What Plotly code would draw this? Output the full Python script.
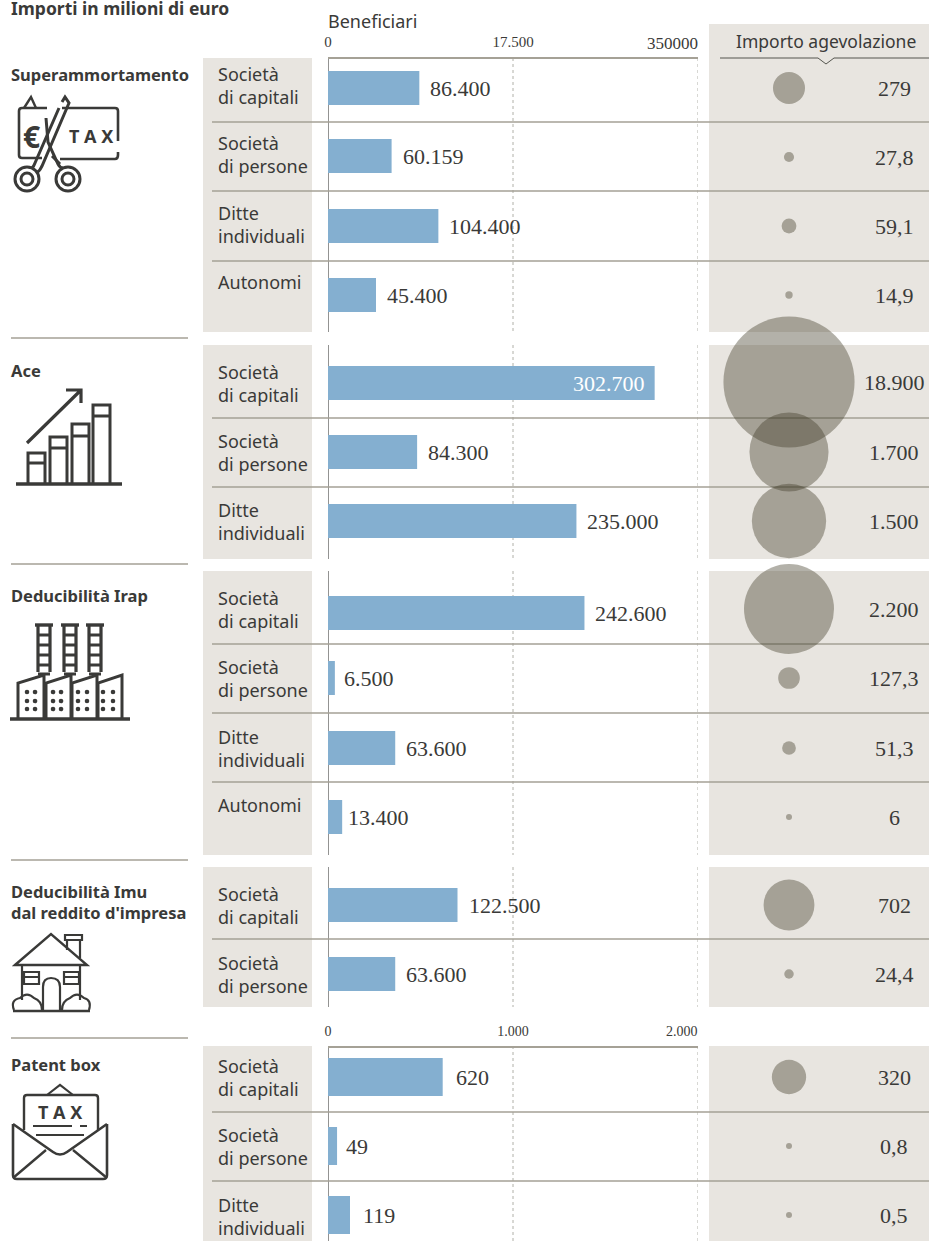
import plotly.graph_objects as go

# ---------- data ----------
section_titles = ["Superammortamento", "Ace", "Deducibilità Irap",
                  "Deducibilità Imu<br>dal reddito d'impresa", "Patent box"]
categories = ["Società<br>di capitali", "Società<br>di persone", "Ditte<br>individuali", "Autonomi",
              "Società<br>di capitali", "Società<br>di persone", "Ditte<br>individuali",
              "Società<br>di capitali", "Società<br>di persone", "Ditte<br>individuali", "Autonomi",
              "Società<br>di capitali", "Società<br>di persone",
              "Società<br>di capitali", "Società<br>di persone", "Ditte<br>individuali"]
# Bar lengths as drawn against the axis (the 302.700 bar is drawn longer than its label in the source)
beneficiari_main = [86400, 60159, 104400, 45400,
                    309000, 84300, 235000,
                    242600, 6500, 63600, 13400,
                    122500, 63600]
beneficiari_patent = [620, 49, 119]
beneficiari_labels = ["86.400", "60.159", "104.400", "45.400",
                      "302.700", "84.300", "235.000",
                      "242.600", "6.500", "63.600", "13.400",
                      "122.500", "63.600",
                      "620", "49", "119"]
importo_labels = ["279", "27,8", "59,1", "14,9",
                  "18.900", "1.700", "1.500",
                  "2.200", "127,3", "51,3", "6",
                  "702", "24,4",
                  "320", "0,8", "0,5"]
# Values behind the bubble areas (the 18.900 bubble is drawn capped in the source)
importo_areas = [279, 27.8, 59.1, 14.9,
                 4670, 1700, 1500,
                 2200, 127.3, 51.3, 6,
                 702, 24.4,
                 320, 0.8, 0.5]
main_ticks = [0, 175000, 350000]
main_ticktext = ["0", "17.500", ""]
main_last_tick = "350000"
patent_ticks = [0, 1000, 2000]
patent_ticktext = ["0", "1.000", ""]
patent_last_tick = "2.000"

# ---------- layout constants (page pixels) ----------
W, H = 929, 1241
AX_L, AX_R = 328, 698
row_y = [88, 156, 226, 295, 383, 452, 521, 613, 678, 748, 817, 905, 974, 1077, 1146, 1215]
bub_y = [88, 157, 226, 295, 382, 452, 521, 609, 678, 748, 817, 905, 974, 1077, 1146, 1215]
lbl_top = [60, 129, 199, 268, 358, 427, 496, 584, 653, 723, 791, 880, 949, 1052, 1121, 1191]
rules = [122, 191, 261, 418, 487, 644, 713, 782, 939, 1112, 1181]
panels = [(58, 332), (345, 559), (571, 855), (867, 1007), (1046, 1241)]
sep = [338, 564, 860, 1038]
title_y = [61, 357, 582, 878, 1051]
label_gap = [9, 9, 9, 9, 0, 9, 9, 9, 7, 9, 4, 9, 9, 11, 7, 11]
INK = "#3a3a38"
GREY = "#e8e5e0"
RULE = "#a5a196"
BLUE = "#84afd0"
SANS = "Noto Sans"
SERIF = "Liberation Serif"

fig = go.Figure()
n_main = len(beneficiari_main)
fig.add_trace(go.Bar(x=beneficiari_main, y=row_y[:n_main], orientation="h", width=34,
                     marker=dict(color=BLUE, line=dict(width=0)), xaxis="x", yaxis="y",
                     name="Beneficiari", hoverinfo="x"))
fig.add_trace(go.Bar(x=beneficiari_patent, y=row_y[n_main:], orientation="h", width=38,
                     marker=dict(color=BLUE, line=dict(width=0)), xaxis="x2", yaxis="y",
                     name="Beneficiari Patent box", hoverinfo="x"))
fig.add_trace(go.Scatter(x=[789] * len(importo_areas), y=bub_y, mode="markers", xaxis="x3", yaxis="y",
                         marker=dict(size=importo_areas, sizemode="area", sizeref=2 * 2200 / 90 ** 2, sizemin=3,
                                     color="rgb(65,59,39)", opacity=0.4, line=dict(width=0)),
                         name="Importo agevolazione", hoverinfo="text", text=importo_labels))

shapes, ann = [], []


def page_line(x0, y0, x1, y1, color=RULE, width=1.5, dash=None, xref="x3", layer="below"):
    shapes.append(dict(type="line", xref=xref, yref="y", x0=x0, y0=y0, x1=x1, y1=y1, layer=layer,
                       line=dict(color=color, width=width, dash=dash)))


def text(x, y, s, size=17, font=SANS, color=INK, xanchor="left", yanchor="middle", xref="x3", xshift=None, bold=False):
    if xshift is None:
        xshift = {"left": -2, "right": 2}.get(xanchor, 0)
    ann.append(dict(x=x, y=y, xref=xref, yref="y", text=f"<b>{s}</b>" if bold else s, showarrow=False,
                    xanchor=xanchor, yanchor=yanchor, align="left", xshift=xshift,
                    font=dict(family=font, size=size, color=color)))


def icon(path, width=2.6, fill=None):
    shapes.append(dict(type="path", xref="x3", yref="y", path=path, layer="above",
                       fillcolor=fill or "rgba(0,0,0,0)", line=dict(color=INK, width=width)))


def ring(cx, cy, r, width=2.6, fill=None):
    shapes.append(dict(type="circle", xref="x3", yref="y", x0=cx - r, x1=cx + r, y0=cy - r, y1=cy + r,
                       layer="above", fillcolor=fill or "rgba(0,0,0,0)", line=dict(color=INK, width=width)))


# panels
for i, (a, b) in enumerate(panels):
    shapes.append(dict(type="rect", xref="x3", yref="y", x0=203, x1=312, y0=a, y1=b, layer="below",
                       fillcolor=GREY, line=dict(width=0)))
    shapes.append(dict(type="rect", xref="x3", yref="y", x0=709, x1=929, y0=24 if i == 0 else a, y1=b,
                       layer="below", fillcolor=GREY, line=dict(width=0)))
# dotted gridlines and zero lines
for i, (a, b) in enumerate(panels):
    xr, ticks = ("x2", patent_ticks) if i == 4 else ("x", main_ticks)
    for t in ticks[1:]:
        page_line(t, a, t, b, color="#b0b0a8", width=1, dash="dot", xref=xr)
    page_line(ticks[0], a, ticks[0], b, color="#4a4a48", width=1.2, xref=xr)
for y in rules:
    page_line(212, y, 929, y)
for y in sep:
    page_line(11, y, 188, y)

# header
text(11, 8, "Importi in milioni di euro", size=17.5, bold=True)
text(328, 21, "Beneficiari", size=18)
text(826, 41, "Importo agevolazione", size=17.5, xanchor="center")
page_line(720, 58, 818, 58, color="#55554f", width=1)
page_line(834, 58, 929, 58, color="#55554f", width=1)
shapes.append(dict(type="path", xref="x3", yref="y", layer="above", path="M818,58 L826,64 L834,58",
                   fillcolor="rgba(0,0,0,0)", line=dict(color="#55554f", width=1)))
text(main_ticks[-1], 43, main_last_tick, size=17, font=SERIF, xanchor="right", xref="x")
text(patent_ticks[-1], 1031, patent_last_tick, size=14, font=SERIF, xanchor="right", xref="x2")

for s, y in zip(section_titles, title_y):
    text(11, y, s, size=16.5, yanchor="top", bold=True)

# row texts
for i, cat in enumerate(categories):
    text(218, lbl_top[i], cat, size=18, yanchor="top")
    is_main = i < n_main
    val = beneficiari_main[i] if is_main else beneficiari_patent[i - n_main]
    xr = "x" if is_main else "x2"
    if beneficiari_labels[i] == "302.700":
        text(val, row_y[i], beneficiari_labels[i], size=22, font=SERIF, color="#ffffff", xanchor="right", xref=xr, xshift=-8)
    else:
        text(val, row_y[i], beneficiari_labels[i], size=22, font=SERIF, xref=xr, xshift=label_gap[i])
    text(894, bub_y[i], importo_labels[i], size=22, font=SERIF, xanchor="center")

# ---- icon: scissors over a tax slip ----
icon("M47,108 H22 Q19,108 19,111 V155 Q19,158 22,158 H42")
icon("M62,108 H115 Q118,108 118,111 V141")
icon("M118,152 V155 Q118,159 115,159 H60")
icon("M24,108 L31,97 L36,108", width=2.4)
icon("M62,102 L65,97 L69,103 L42,166 Q39,172 37,172", width=3)
icon("M59,108 L35,163 Q34,166 32,168", width=3)
icon("M46,118 L48,142 L58,164 Q60,168 63,168", width=3)
icon("M52,156 L60,164", width=3)
ring(27, 179, 12, width=3); ring(27, 179, 6, width=3); ring(68, 179, 12, width=3); ring(68, 179, 6, width=3)
text(31, 136, "€", size=30, bold=True, xanchor="center")
text(91, 136, "T A X", size=18, bold=True, xanchor="center")

# ---- icon: rising columns ----
icon("M16,484 H122", width=3.4)
for x0, top, band in [(28, 453, 463), (50, 437, 448), (72, 424, 436), (93, 405, 416)]:
    icon(f"M{x0},484 V{top} H{x0 + 17} V484 M{x0},{band} H{x0 + 17}", width=3)
icon("M27,443 L80,391 M66,390 H81 V403", width=3.2)

# ---- icon: factory ----
icon("M10,719 H130", width=3.4)
for cx in [44, 70, 95]:
    icon(f"M{cx - 9},625 H{cx + 9}", width=3.4)
    icon(f"M{cx - 6},625 V672 M{cx + 6},625 V672", width=3.2)
    icon("".join(f"M{cx - 6},{y} H{cx + 6} " for y in [635, 645, 655, 665, 674]), width=2.8)
for x0, x1 in [(18, 44), (46, 71), (72, 97), (98, 122)]:
    icon(f"M{x0},719 V683 L{x1},675 V719", width=3)
for xa, xb in [(27, 35), (53, 61), (78, 87), (103, 113)]:
    for y in [692, 701, 709]:
        ring(xa, y, 1.6, width=1.4, fill=INK); ring(xb, y, 1.6, width=1.4, fill=INK)

# ---- icon: house ----
icon("M15,965 L51,934 L87,965 Z", width=2.4)
icon("M67,950 V940 H80 V958 M65,935 H82 V940 H65 Z", width=2.2)
icon("M22,965 V1000 M80,965 V1000 M43,1010 V987 Q43,978 51,978 Q60,978 60,987 V1010", width=2.2)
icon("M24,972 H39 V984 H24 Z M24,977 H39 M64,972 H79 V984 H64 Z M64,977 H79", width=2.2)
icon("M13,1011 H90", width=2.6)
icon("M14,1010 Q10,1000 20,998 Q27,991 34,998 Q42,1001 42,1010 M62,1010 Q62,1001 70,998 Q77,991 84,998 Q92,1000 89,1010", width=2.2)

# ---- icon: open envelope ----
icon("M13,1124 V1175 Q13,1179 17,1179 H103 Q107,1179 107,1175 V1124", width=2.6)
icon("M13,1124 L53,1152 Q60,1157 67,1152 L107,1124", width=2.6)
icon("M13,1178 L46,1150 M107,1178 L73,1150", width=2.4)
icon("M24,1130 V1098 Q24,1095 27,1095 H95 Q98,1095 98,1098 V1130", width=2.4)
icon("M47,1095 L60,1085 L73,1095", width=2.2)
icon("M33,1126 H72 M80,1126 H87 M36,1135 H84", width=1.8)
text(60, 1112, "T A X", size=18, bold=True, xanchor="center")

fig.update_layout(
    width=W, height=H, margin=dict(l=0, r=0, t=0, b=0, autoexpand=False), showlegend=False,
    paper_bgcolor="#ffffff", plot_bgcolor="rgba(0,0,0,0)", barmode="overlay",
    shapes=shapes, annotations=ann,
    yaxis=dict(range=[H, 0], domain=[0, 1], visible=False, fixedrange=True),
    xaxis=dict(domain=[AX_L / W, AX_R / W], range=[main_ticks[0], main_ticks[-1]], anchor="free",
               position=1 - 58 / H, side="top", tickvals=main_ticks, ticktext=main_ticktext,
               showgrid=False, zeroline=False, showline=True, linecolor=RULE, linewidth=2,
               ticks="outside", ticklen=4, tickcolor="rgba(0,0,0,0)",
               tickfont=dict(family=SERIF, size=15, color=INK), fixedrange=True),
    xaxis2=dict(domain=[AX_L / W, AX_R / W], range=[patent_ticks[0], patent_ticks[-1]], anchor="free",
                position=1 - 1047 / H, side="top", overlaying="x", tickvals=patent_ticks, ticktext=patent_ticktext,
                showgrid=False, zeroline=False, showline=True, linecolor=RULE, linewidth=2,
                ticks="outside", ticklen=4, tickcolor="rgba(0,0,0,0)",
                tickfont=dict(family=SERIF, size=14, color=INK), fixedrange=True),
    xaxis3=dict(domain=[0, 1], range=[0, W], anchor="y", visible=False, fixedrange=True),
)
fig.write_html("out.html", config=dict(displayModeBar=False),
               post_script="document.body.style.margin='0';document.documentElement.style.overflow='hidden';")
